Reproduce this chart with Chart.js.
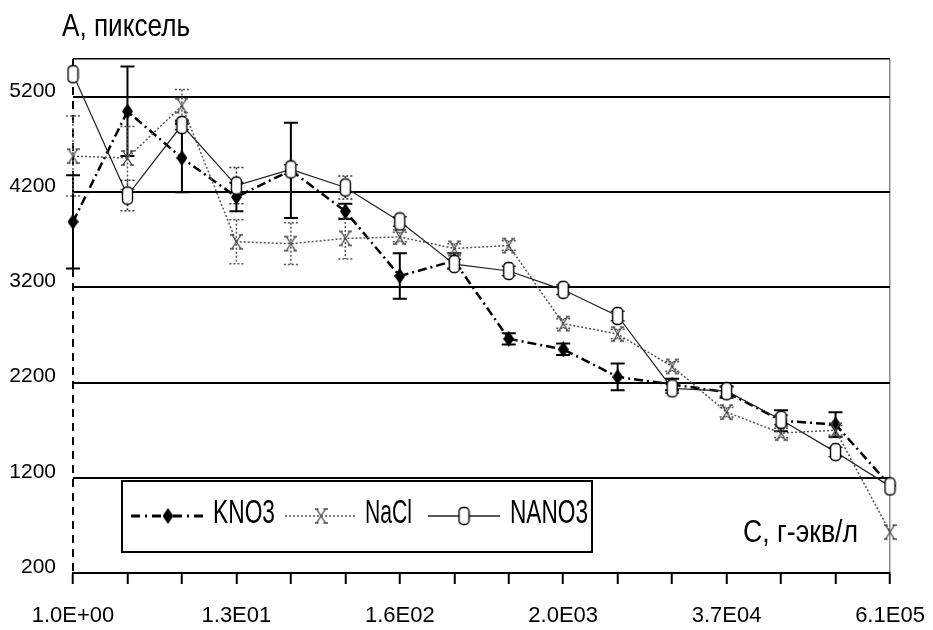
<!DOCTYPE html>
<html>
<head>
<meta charset="utf-8">
<title>A, пиксель / C, г-экв/л</title>
<style>
  html, body { margin: 0; padding: 0; background: #fff; }
  #wrap { position: relative; width: 933px; height: 630px; }
</style>
</head>
<body>
<div id="wrap"><canvas id="chart" width="933" height="630"></canvas></div>

<script src="https://cdn.jsdelivr.net/npm/chart.js@4"></script>
<script>
// x categories (only every third one is labelled on the original)
const xLabels = ['1.0E+00', '', '', '1.3E01', '', '', '1.6E02', '', '', '2.0E03', '', '', '3.7E04', '', '', '6.1E05'];
const yTicks = [200, 1200, 2200, 3200, 4200, 5200];
const yMin = 200;
const yMax = 5600;

// A, pixel values
const kno3 = [3890, 5050, 4560, 4150, 4430, 4000, 3320, 3480, 2660, 2550, 2260, 2180, 2100, 1800, 1760, 1120];
const kno3Err = [490, 470, 360, 150, 500, 80, 240, 80, 60, 60, 140, 60, 60, 110, 130, 0];
const nacl = [4580, 4560, 5110, 3680, 3660, 3715, 3730, 3610, 3640, 2820, 2710, 2370, 1890, 1670, 1700, 630];
const naclErr = [420, 330, 170, 230, 220, 215, 50, 50, 50, 50, 50, 50, 50, 50, 50, 0];
const nano3 = [5440, 4165, 4906, 4270, 4440, 4250, 3893, 3445, 3373, 3175, 2900, 2140, 2110, 1810, 1470, 1110];
const nano3Err = [0, 160, 50, 190, 50, 120, 50, 50, 50, 50, 50, 50, 50, 50, 50, 0];

const FONT = '"Liberation Sans", Arial, sans-serif';

// marker images
function makeDiamond() {
    const c = document.createElement('canvas');
    c.width = 11; c.height = 16;
    const g = c.getContext('2d');
    g.fillStyle = '#000';
    g.beginPath();
    g.moveTo(5.5, 0); g.lineTo(11, 8); g.lineTo(5.5, 16); g.lineTo(0, 8);
    g.closePath();
    g.fill();
    return c;
}
function makeCross() {
    const c = document.createElement('canvas');
    c.width = 13; c.height = 18;
    const g = c.getContext('2d');
    g.strokeStyle = '#444';
    g.lineWidth = 1.3;
    g.beginPath();
    g.moveTo(2, 2); g.lineTo(11, 16);
    g.moveTo(11, 2); g.lineTo(2, 16);
    g.moveTo(0, 2); g.lineTo(4, 2);
    g.moveTo(9, 2); g.lineTo(13, 2);
    g.moveTo(0, 16); g.lineTo(4, 16);
    g.moveTo(9, 16); g.lineTo(13, 16);
    g.stroke();
    return c;
}
function makeBox() {
    const c = document.createElement('canvas');
    c.width = 13; c.height = 20;
    const g = c.getContext('2d');
    g.fillStyle = '#fff';
    g.strokeStyle = '#000';
    g.lineWidth = 1.4;
    g.beginPath();
    g.roundRect(1.5, 1.5, 10, 17, 4);
    g.fill();
    g.stroke();
    return c;
}
const diamondImg = makeDiamond();
const crossImg = makeCross();
const boxImg = makeBox();

const errSets = [kno3Err, naclErr, nano3Err];
const errStyles = [
    { color: '#000', width: 2, dash: [] },
    { color: '#555', width: 1.5, dash: [2, 2] },
    { color: '#333', width: 1.5, dash: [2, 2] }
];

// condensed text, stretched to a given width
function fitText(ctx, text, x, yBase, width, size) {
    ctx.save();
    ctx.font = size + 'px ' + FONT;
    const w = ctx.measureText(text).width;
    ctx.translate(x, yBase);
    ctx.scale(width / w, 1);
    ctx.fillStyle = '#000';
    ctx.textBaseline = 'alphabetic';
    ctx.fillText(text, 0, 0);
    ctx.restore();
}

const extras = {
    id: 'extras',
    beforeDatasetsDraw(chart) {
        const ctx = chart.ctx;
        const area = chart.chartArea;
        const ys = chart.scales.y;

        // dashed y axis
        ctx.save();
        ctx.strokeStyle = '#000';
        ctx.lineWidth = 2;
        ctx.setLineDash([8, 6]);
        ctx.beginPath();
        ctx.moveTo(area.left, area.top);
        ctx.lineTo(area.left, area.bottom);
        ctx.stroke();
        ctx.restore();

        // error bars
        ctx.save();
        ctx.beginPath();
        ctx.rect(area.left - 10, area.top, area.right - area.left + 20, area.bottom - area.top);
        ctx.clip();
        chart.data.datasets.forEach((ds, di) => {
            const meta = chart.getDatasetMeta(di);
            const errs = errSets[di];
            const st = errStyles[di];
            ctx.strokeStyle = st.color;
            ctx.lineWidth = st.width;
            ctx.setLineDash(st.dash);
            meta.data.forEach((pt, i) => {
                const e = errs[i];
                if (!e || ds.data[i] == null) return;
                const y1 = ys.getPixelForValue(ds.data[i] + e);
                const y2 = ys.getPixelForValue(ds.data[i] - e);
                ctx.beginPath();
                ctx.moveTo(pt.x, y1); ctx.lineTo(pt.x, y2);
                ctx.moveTo(pt.x - 7, y1); ctx.lineTo(pt.x + 7, y1);
                ctx.moveTo(pt.x - 7, y2); ctx.lineTo(pt.x + 7, y2);
                ctx.stroke();
            });
        });
        ctx.restore();
    },
    afterDraw(chart) {
        const ctx = chart.ctx;

        // axis titles
        fitText(ctx, 'A, пиксель', 62, 36, 128, 32);
        fitText(ctx, 'C, г-экв/л', 743, 542, 115, 32);

        // legend
        ctx.save();
        ctx.fillStyle = '#fff';
        ctx.fillRect(122, 481, 470, 71);
        ctx.strokeStyle = '#000';
        ctx.lineWidth = 2;
        ctx.strokeRect(122, 481, 470, 71);

        const ly = 516;
        ctx.lineWidth = 3;
        ctx.setLineDash([9, 5, 2, 5]);
        ctx.beginPath(); ctx.moveTo(131, ly); ctx.lineTo(205, ly); ctx.stroke();
        ctx.drawImage(diamondImg, 168 - 5.5, ly - 8);

        ctx.strokeStyle = '#555';
        ctx.lineWidth = 1.5;
        ctx.setLineDash([2, 2]);
        ctx.beginPath(); ctx.moveTo(285, ly); ctx.lineTo(357, ly); ctx.stroke();
        ctx.drawImage(crossImg, 321 - 6.5, ly - 9);

        ctx.strokeStyle = '#222';
        ctx.lineWidth = 1.3;
        ctx.setLineDash([]);
        ctx.beginPath(); ctx.moveTo(428, ly); ctx.lineTo(500, ly); ctx.stroke();
        ctx.drawImage(boxImg, 464 - 6.5, ly - 10);
        ctx.restore();

        fitText(ctx, 'KNO3', 213, 523, 62, 33);
        fitText(ctx, 'NaCl', 365, 523, 47, 33);
        fitText(ctx, 'NANO3', 510, 523, 78, 33);
    }
};

new Chart(document.getElementById('chart'), {
    type: 'line',
    data: {
        labels: xLabels,
        datasets: [
            {
                label: 'KNO3',
                data: kno3,
                borderColor: '#000',
                borderWidth: 2.5,
                borderDash: [9, 4, 2, 4],
                pointStyle: diamondImg,
                pointRadius: 6,
                tension: 0,
                order: 2
            },
            {
                label: 'NaCl',
                data: nacl,
                borderColor: '#555',
                borderWidth: 1.5,
                borderDash: [2, 2],
                pointStyle: crossImg,
                pointRadius: 6,
                tension: 0,
                order: 1
            },
            {
                label: 'NANO3',
                data: nano3,
                borderColor: '#222',
                borderWidth: 1.2,
                pointStyle: boxImg,
                pointRadius: 6,
                tension: 0,
                order: 0
            }
        ]
    },
    options: {
        responsive: false,
        devicePixelRatio: 1,
        animation: false,
        events: [],
        layout: { padding: { top: 59, right: 43, bottom: 0, left: 0 } },
        plugins: {
            legend: { display: false },
            tooltip: { enabled: false }
        },
        scales: {
            x: {
                type: 'category',
                offset: false,
                grid: {
                    color: c => c.index === xLabels.length - 1 ? '#8a8a8a' : 'rgba(0,0,0,0)',
                    lineWidth: 1.5,
                    tickLength: 11,
                    tickWidth: 2,
                    tickColor: '#000'
                },
                border: { color: '#000', width: 2 },
                ticks: {
                    autoSkip: false,
                    maxRotation: 0,
                    minRotation: 0,
                    padding: 19,
                    color: '#000',
                    font: { size: 22, family: FONT },
                    callback: (v, i) => xLabels[i]
                },
                afterFit: s => {
                    s.height = 57;
                    s.paddingLeft = 0;
                    s.paddingRight = 0;
                }
            },
            y: {
                min: yMin,
                max: yMax,
                afterBuildTicks: s => {
                    s.ticks = yTicks.concat([yMax]).map(v => ({ value: v }));
                },
                grid: {
                    color: '#000',
                    lineWidth: c => c.tick && c.tick.value === yMax ? 1.5 : 2,
                    drawTicks: false
                },
                border: { display: false },
                ticks: {
                    padding: 17,
                    labelOffset: -6,
                    color: '#000',
                    font: { size: 21, family: FONT },
                    callback: v => yTicks.includes(v) ? String(v) : ''
                },
                afterFit: s => { s.width = 73; }
            }
        }
    },
    plugins: [extras]
});
</script>
</body>
</html>
